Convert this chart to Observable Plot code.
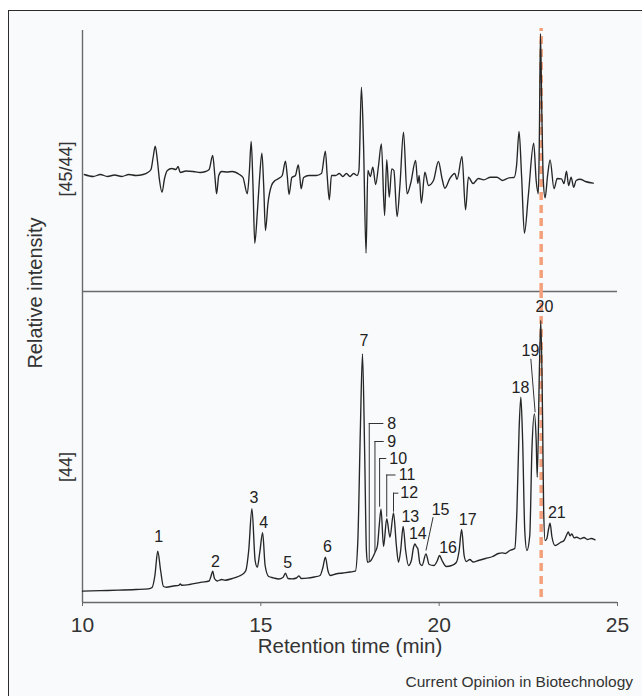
<!DOCTYPE html>
<html>
<head>
<meta charset="utf-8">
<script src="https://cdn.jsdelivr.net/npm/d3@7"></script>
<script src="https://cdn.jsdelivr.net/npm/@observablehq/plot@0.6"></script>
<style>
  html, body { margin: 0; padding: 0; background: #ffffff; width: 642px; height: 696px; overflow: hidden; position: relative; }
  #frame { position: absolute; left: 8px; top: 10px; width: 700px; height: 720px; border: 1.5px solid #2c2c2c; background: #f9fafb; }
  .lab { position: absolute; font-family: "Liberation Sans", Arial, Helvetica, sans-serif; color: #333; white-space: nowrap; }
  #ylab { left: 35px; top: 293px; font-size: 20px; transform: translate(-50%, -50%) rotate(-90deg); }
  #caption { right: 9px; top: 673px; font-size: 15.5px; color: #333; }
</style>
</head>
<body>
<div id="frame"></div>
<div id="ylab" class="lab">Relative intensity</div>
<div id="caption" class="lab">Current Opinion in Biotechnology</div>
<script>
// ---------- data ----------
const xTicks = [10, 15, 20, 25];
const markerTime = 22.86;

// [45/44] ratio trace: [retention time (min), relative value]
const ratioTrace = [
  [10.05,1],[10.3,-1],[10.5,1],[10.7,-1],[10.9,0.5],[11.1,-1],[11.3,1],[11.5,0],[11.7,1],[11.83,3],
  [11.92,6],[11.98,18],[12.04,29.3],[12.1,15],[12.16,-5],[12.23,-16.7],[12.3,-3],[12.38,5],[12.5,7],[12.62,6],
  [12.68,9],[12.74,3],[12.9,4.5],[13.1,4],[13.3,3],[13.45,4],[13.55,6],[13.65,20],[13.71,0],[13.76,-18.3],
  [13.82,0],[13.9,4],[14.05,3.5],[14.2,4],[14.4,1],[14.5,-2],[14.62,-18.3],[14.68,5],[14.73,34],[14.78,-10],
  [14.83,-67.7],[14.9,-38],[14.96,-5],[15.03,22.3],[15.08,-10],[15.13,-55],[15.2,-28],[15.3,-10],[15.4,-5],[15.5,-3],
  [15.6,0],[15.69,14.3],[15.74,0],[15.79,-19],[15.87,-2],[15.97,0],[16.05,10.7],[16.09,0],[16.13,-13.3],[16.2,-2],
  [16.35,0],[16.55,0],[16.7,2],[16.81,24.3],[16.86,0],[16.92,-24.3],[16.98,0],[17.1,0],[17.2,2],[17.3,-1],
  [17.4,2],[17.5,-1],[17.6,2],[17.7,0],[17.75,5],[17.82,88.3],[17.88,30],[17.95,-77.7],[18.0,5],[18.07,-1],
  [18.14,8.3],[18.22,-9],[18.3,10],[18.38,31.7],[18.47,-40],[18.53,15.7],[18.6,-21.7],[18.67,6.7],[18.73,5],[18.82,-41],
  [18.9,-10],[19.0,43.3],[19.1,-18.3],[19.2,-8],[19.34,15],[19.4,-8],[19.44,0],[19.5,-27.7],[19.6,3.3],[19.7,-10],
  [19.84,-5],[19.98,14],[20.08,-3],[20.16,-12.7],[20.3,-3],[20.44,2],[20.5,-4],[20.64,19],[20.74,-34.3],[20.82,-1.7],
  [20.95,-8],[21.1,-3],[21.25,-4.3],[21.44,-1.7],[21.62,-1.7],[21.77,-5],[21.96,-2.3],[22.1,-2],[22.17,10],[22.24,44],
  [22.31,0],[22.39,-57.7],[22.5,-20],[22.65,32.3],[22.72,-5],[22.78,-18.3],[22.81,40],[22.84,142],[22.88,60],[22.92,-5],[22.97,-22.3],
  [23.04,0],[23.11,15.7],[23.22,-13.3],[23.31,-3],[23.43,-3.3],[23.5,-8],[23.57,4.3],[23.63,-10],[23.7,-1.7],[23.77,-11.7],
  [23.84,-5],[23.95,-3.7],[24.1,-6],[24.32,-7.7]
];

// [44] trace: [retention time (min), intensity]
const massTrace = [
  [10.0,9.3],[10.5,9.8],[11.0,10.3],[11.5,11.0],[11.85,11.7],[11.95,13],[12.03,25],[12.11,49.3],[12.19,30],[12.27,14],
  [12.35,13.3],[12.55,14.5],[12.7,15.2],[12.74,16.7],[12.78,15.3],[13.0,16],[13.34,18.3],[13.55,19.5],[13.6,24],[13.65,29.3],
  [13.7,22],[13.78,19.5],[13.9,21],[14.0,20.3],[14.2,22],[14.4,24.5],[14.48,26],[14.58,30],[14.66,50],[14.75,91.7],
  [14.84,40],[14.9,33.3],[14.97,48],[15.05,67.7],[15.12,35],[15.22,24],[15.35,22.7],[15.5,21.5],[15.62,23],[15.69,27.3],
  [15.76,22],[15.88,21.7],[16.0,22.5],[16.07,24.7],[16.13,22],[16.3,22.3],[16.5,23.5],[16.66,25],[16.74,33],[16.81,43.3],
  [16.88,30],[16.95,25],[17.1,26.5],[17.3,27.5],[17.5,28.5],[17.65,29.3],[17.72,60],[17.79,170],[17.85,246.7],[17.91,150],
  [17.96,50],[17.99,38.3],[18.06,39],[18.12,42],[18.2,48],[18.27,55],[18.32,75],[18.37,91.3],[18.44,54],[18.53,81.7],
  [18.62,63.3],[18.72,87.7],[18.8,55],[18.86,38.3],[18.92,50],[18.99,74],[19.06,50],[19.14,35],[19.22,40],[19.28,53],
  [19.32,56.7],[19.36,54],[19.4,52],[19.46,37],[19.52,35],[19.63,46.7],[19.72,36],[19.85,35],[19.95,40],[20.01,45],
  [20.08,40],[20.2,34],[20.35,35],[20.48,38],[20.56,50],[20.63,71],[20.7,45],[20.76,39],[20.86,41],[20.95,38.5],
  [21.1,40],[21.3,42],[21.5,44],[21.66,47],[21.76,47.7],[21.86,47],[21.98,50],[22.12,52],[22.18,90],[22.24,170],
  [22.29,203.3],[22.34,160],[22.4,70],[22.46,50],[22.54,65],[22.6,150],[22.67,186.7],[22.72,160],[22.75,123.3],[22.81,230],
  [22.85,280],[22.9,180],[22.93,90],[22.97,60],[23.02,62],[23.07,72],[23.11,77.3],[23.16,64],[23.25,55],[23.4,58],
  [23.5,60],[23.58,66],[23.62,68.5],[23.67,64.6],[23.72,66.7],[23.78,62.7],[23.86,63.3],[23.96,61.7],[24.06,63],[24.16,61],
  [24.26,62],[24.37,60.7]
];

// peak labels: number, label centre (time, intensity)
const peakNames = ["1","2","3","4","5","6","7","8","9","10","11","12","13","14","15","16","17","18","19","20","21"];
const peakLabelTime = [12.14,13.73,14.81,15.08,15.75,16.87,17.89,18.67,18.67,18.85,19.1,19.16,19.19,19.4,20.04,20.25,20.8,22.28,22.56,22.95,23.3];
const peakLabelLevel = [63.3,39,102.7,77.7,37.7,54,259.3,177,159,142,125.5,107.3,83.3,66.7,90.7,52.7,80.7,212.7,249.3,293.3,87.3];

// bracket leaders for peaks 8-12: [stem time, end time of the arm, arm level, stem foot level]
const bracketLeaders = [
  [18.04, 18.45, 177, 38.3],
  [18.20, 18.46, 159, 48.3],
  [18.33, 18.53, 142, 93.3],
  [18.53, 18.79, 125.5, 83.3],
  [18.72, 18.87, 107.3, 88.3]
];
// slanted leaders for peaks 15 and 19: [t1, level1, t2, level2]
const slantLeaders = [
  [19.83, 83.3, 19.63, 50],
  [22.57, 241.7, 22.69, 188.3]
];

// ---------- drawing ----------
const font = "'Liberation Sans', Arial, Helvetica, sans-serif";
const ink = "#262626";
const axisGrey = "#6a6a6a";
const markerColor = "#f4a07c";

const ratioData = ratioTrace.map(([t, v]) => ({t, v}));
const massData = massTrace.map(([t, v]) => ({t, v}));
const labels = peakNames.map((n, i) => ({n, t: peakLabelTime[i], v: peakLabelLevel[i]}));
const brackets = bracketLeaders.map(([t, tEnd, top, foot]) => ({t, tEnd, top, foot}));
const slants = slantLeaders.map(([t1, v1, t2, v2]) => ({t1, v1, t2, v2}));

const topPlot = Plot.plot({
  width: 642, height: 292,
  marginLeft: 82, marginRight: 25, marginTop: 30, marginBottom: 1,
  x: {domain: [10, 25], axis: null},
  y: {domain: [-116, 145], axis: null},
  style: {background: "transparent", fontFamily: font, color: "#333", overflow: "visible"},
  marks: [
    Plot.ruleX([10], {stroke: axisGrey, strokeWidth: 1.4}),
    Plot.ruleY([-116], {stroke: axisGrey, strokeWidth: 1.4}),
    Plot.ruleX([markerTime], {y1: -116, y2: 147, stroke: markerColor, strokeWidth: 3.5, strokeDasharray: "8,5"}),
    Plot.line(ratioData, {x: "t", y: "v", stroke: ink, strokeWidth: 1.35, curve: "monotone-x"}),
    Plot.text(["[45/44]"], {frameAnchor: "left", textAnchor: "middle", text: d => d, rotate: -90, dx: -16, dy: 8, fontSize: 18, fill: "#333"})
  ]
});

const bottomPlot = Plot.plot({
  width: 642, height: 381,
  marginLeft: 82, marginRight: 25, marginTop: 0, marginBottom: 70,
  x: {domain: [10, 25]},
  y: {domain: [-2, 309], axis: null},
  style: {background: "transparent", fontFamily: font, color: "#333", overflow: "visible"},
  marks: [
    Plot.ruleX([10], {stroke: axisGrey, strokeWidth: 1.4}),
    Plot.ruleY([-2], {stroke: axisGrey, strokeWidth: 1.4}),
    Plot.axisX({ticks: xTicks, tickSize: 4, tickPadding: 11, fontSize: 21, label: null, stroke: axisGrey, fill: "#333"}),
    Plot.text(["Retention time (min)"], {frameAnchor: "bottom", text: d => d, dy: 50, fontSize: 20.5, fill: "#333"}),
    Plot.text(["[44]"], {frameAnchor: "left", textAnchor: "middle", text: d => d, rotate: -90, dx: -16, dy: 20, fontSize: 18, fill: "#333"}),
    Plot.ruleX([markerTime], {y1: 3, y2: 309, stroke: markerColor, strokeWidth: 3.5, strokeDasharray: "8,5"}),
    Plot.line(massData, {x: "t", y: "v", stroke: ink, strokeWidth: 1.35, curve: "monotone-x"}),
    Plot.ruleX(brackets, {x: "t", y1: "foot", y2: "top", stroke: "#333", strokeWidth: 1}),
    Plot.ruleY(brackets, {y: "top", x1: "t", x2: "tEnd", stroke: "#333", strokeWidth: 1}),
    Plot.link(slants, {x1: "t1", y1: "v1", x2: "t2", y2: "v2", stroke: "#333", strokeWidth: 1}),
    Plot.text(labels, {x: "t", y: "v", text: "n", fontSize: 16, fill: "#222", lineAnchor: "middle"})
  ]
});

for (const [svg, top] of [[topPlot, 0], [bottomPlot, 291]]) {
  svg.style.position = "absolute";
  svg.style.left = "0px";
  svg.style.top = top + "px";
  document.body.appendChild(svg);
}
</script>
</body>
</html>
